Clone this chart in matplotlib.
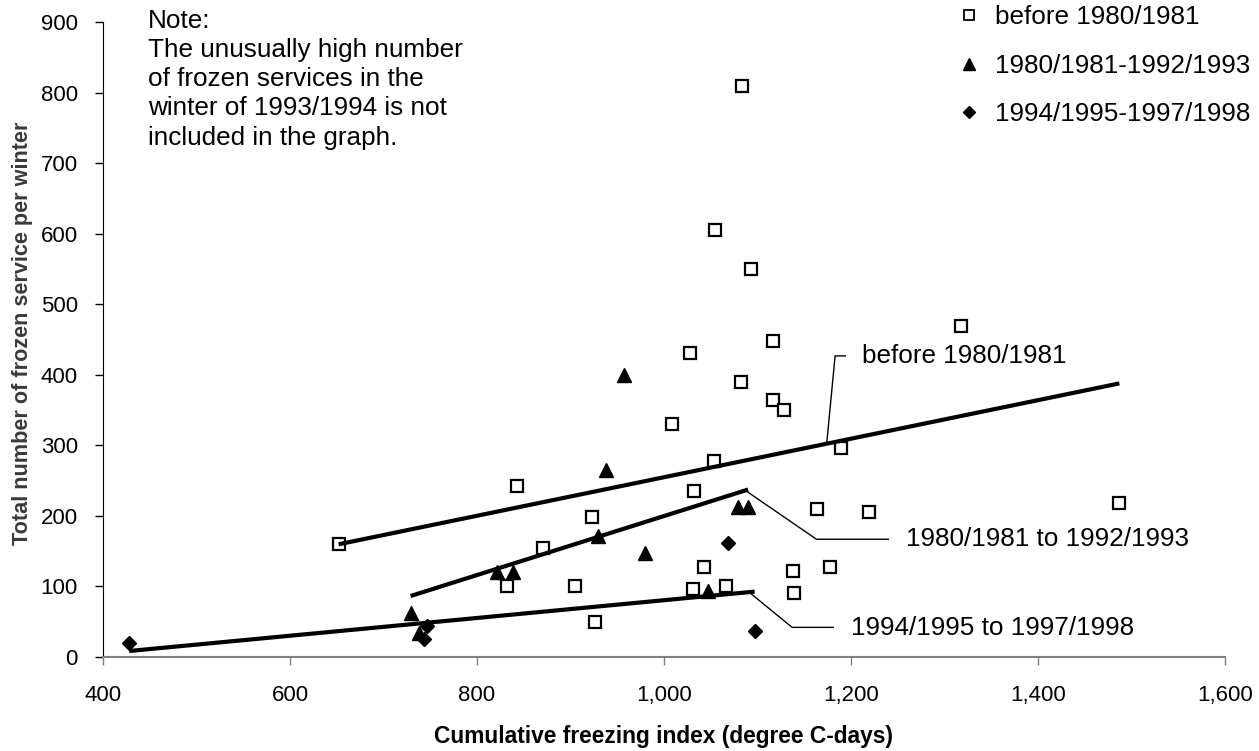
import numpy as np
import matplotlib
matplotlib.use('Agg')
import matplotlib.pyplot as plt
from matplotlib.lines import Line2D

plt.rcParams['font.family'] = ['Liberation Sans', 'DejaVu Sans']

# --- data ---
before_x = [652, 843, 871, 923, 926, 905, 832, 1009, 1028, 1032, 1031, 1043,
            1054, 1055, 1066, 1082, 1083, 1093, 1117, 1117, 1128, 1138, 1139,
            1164, 1178, 1189, 1219, 1318, 1487]
before_y = [160, 243, 154, 199, 49, 100, 101, 330, 431, 236, 96, 127,
            278, 606, 101, 390, 810, 550, 448, 364, 350, 122, 91,
            210, 127, 296, 205, 470, 219]

mid_x = [729, 738, 821, 838, 929, 938, 957, 980, 1047, 1079, 1090]
mid_y = [62, 34, 121, 121, 171, 265, 400, 147, 94, 213, 213]

late_x = [428, 743, 747, 1068, 1097]
late_y = [20, 25, 44, 161, 37]

legend_labels = ['before 1980/1981', '1980/1981-1992/1993', '1994/1995-1997/1998']
trend_labels = ['before 1980/1981', '1980/1981 to 1992/1993', '1994/1995 to 1997/1998']

x_ticks = [400, 600, 800, 1000, 1200, 1400, 1600]
y_ticks = [0, 100, 200, 300, 400, 500, 600, 700, 800, 900]

note = ('Note:\nThe unusually high number\nof frozen services in the\n'
        'winter of 1993/1994 is not\nincluded in the graph.')


def fit(xs, ys):
    k, b = np.polyfit(xs, ys, 1)
    return lambda x: k * x + b


fig = plt.figure(figsize=(12.59, 7.51), dpi=100)
ax = fig.add_axes([0.0818, 0.1252, 0.8912, 0.845])

# scatter markers
ax.plot(before_x, before_y, 's', ms=8, mfc='white', mec='black', mew=1.6, ls='none')
ax.plot(mid_x, mid_y, '^', ms=10, color='black', ls='none')
ax.plot(late_x, late_y, 'D', ms=7, color='black', ls='none')

# linear trend lines over each group's x range
fits = []
for xs, ys in [(before_x, before_y), (mid_x, mid_y), (late_x, late_y)]:
    f = fit(xs, ys)
    fits.append(f)
    xx = np.array([min(xs), max(xs)])
    ax.plot(xx, f(xx), color='black', lw=3, solid_capstyle='butt')

# leader lines + labels for trend lines (start on the fitted line)
lw_lead = 1.0
fs_lab = 18.8
x0 = 1174
ax.plot([x0, 1183, 1194], [fits[0](x0), 427, 427], color='black', lw=lw_lead)
ax.text(1212, 427, trend_labels[0], fontsize=fs_lab, va='center', ha='left')

x1 = 1087
ax.plot([x1, 1163, 1240], [fits[1](x1), 167, 167], color='black', lw=lw_lead)
ax.text(1259, 167, trend_labels[1], fontsize=fs_lab, va='center', ha='left')

x2 = 1091
ax.plot([x2, 1137, 1181], [fits[2](x2), 42, 42], color='black', lw=lw_lead)
ax.text(1200, 41, trend_labels[2], fontsize=fs_lab, va='center', ha='left')

ax.set_xlim(400, 1600)
ax.set_ylim(0, 900)
ax.set_xticks(x_ticks)
ax.set_xticklabels([f'{v:,}' for v in x_ticks])
ax.set_yticks(y_ticks)
ax.tick_params(axis='both', labelsize=16, length=6, width=1, direction='out',
               colors='black')
ax.tick_params(axis='x', color='#808080', pad=14)
ax.tick_params(axis='y', pad=12)

for s in ['top', 'right']:
    ax.spines[s].set_visible(False)
ax.spines['bottom'].set_color('#808080')
ax.spines['bottom'].set_linewidth(1.5)
ax.spines['left'].set_color('black')

ax.set_xlabel('Cumulative freezing index (degree C-days)', fontsize=16.4,
              fontweight='bold', labelpad=14)
fig.text(0.0175, 1 - 333 / 751, 'Total number of frozen service per winter',
         rotation=90, fontsize=15.6, fontweight='bold', color='#3a3a3a',
         ha='center', va='center')

# note in upper left
fig.text(148 / 1259, 1 - 9 / 751, note, fontsize=fs_lab, va='top', ha='left',
         linespacing=1.27)

# legend (top right)
handles = [
    Line2D([], [], marker='s', ms=7, mfc='white', mec='black', mew=1.3, ls='none'),
    Line2D([], [], marker='^', ms=9, color='black', ls='none'),
    Line2D([], [], marker='D', ms=6, color='black', ls='none'),
]
fig.legend(handles, legend_labels, loc='upper left',
           bbox_to_anchor=(945 / 1259, 1 + 5 / 751), frameon=False,
           fontsize=fs_lab, handletextpad=0.5, labelspacing=0.93,
           handlelength=1.0, borderaxespad=0)

fig.savefig('out.png', dpi=100)
